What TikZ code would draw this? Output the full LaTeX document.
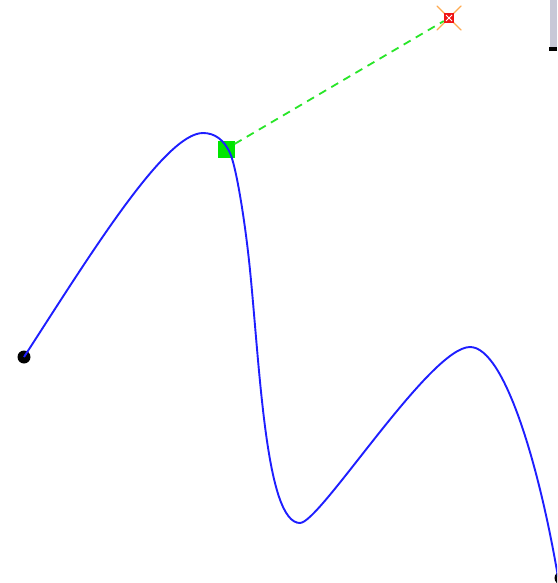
\documentclass[tikz,border=0pt]{standalone}
\begin{document}
\begin{tikzpicture}[x=1pt,y=-1pt,
  curveline/.style={draw={rgb,255:red,30;green,30;blue,255},line width=1.9pt},
  enddot/.style={circle,fill=black,inner sep=0pt,minimum size=13pt},
  anchorsq/.style={rectangle,fill={rgb,255:red,0;green,230;blue,0},inner sep=0pt,minimum size=17pt},
  handlesq/.style={rectangle,fill={rgb,255:red,240;green,20;blue,20},inner sep=0pt,minimum size=10pt},
  handleline/.style={draw={rgb,255:red,40;green,230;blue,40},line width=1.8pt,dash pattern=on 8pt off 6pt},
  orangeline/.style={draw={rgb,255:red,255;green,170;blue,80},line width=1.4pt,line cap=round}]
\useasboundingbox (0,0) rectangle (557,583);
\clip (0,0) rectangle (557,583);
\fill[white] (0,0) rectangle (557,583);
% top-right widget strip
\fill[fill={rgb,255:red,200;green,200;blue,215}] (550,0) rectangle (557,47);
\fill[black] (549,47) rectangle (557,51);
% nodes
\node[enddot] (a) at (24,357) {};
\node[enddot] (b) at (561,578) {};
\node[anchorsq] (g) at (226,149) {};
% handle
\coordinate (r) at (449,18);
\draw[orangeline] ([shift={(-12,-12)}]r) -- ([shift={(12,12)}]r);
\draw[orangeline] ([shift={(-12,12)}]r) -- ([shift={(12,-12)}]r);
\node[handlesq] (h) at (r) {};
\draw[white,line width=0.8pt] ([shift={(-3,-3)}]r) -- ([shift={(3,3)}]r);
\draw[white,line width=0.8pt] ([shift={(-3,3)}]r) -- ([shift={(3,-3)}]r);
\draw[handleline] (g) -- (h);
% curve
\draw[curveline] (a.center)
  .. controls (90,255) and (165,133) .. (203,133)
  .. controls (215,133) and (224,140) .. (230,153)
  .. controls (236,166) and (245,220) .. (250,270)
  .. controls (260,370) and (266,523) .. (300,523)
  .. controls (320,523) and (430,347) .. (470,347)
  .. controls (505,347) and (540,470) .. (558,577);
\end{tikzpicture}
\end{document}
